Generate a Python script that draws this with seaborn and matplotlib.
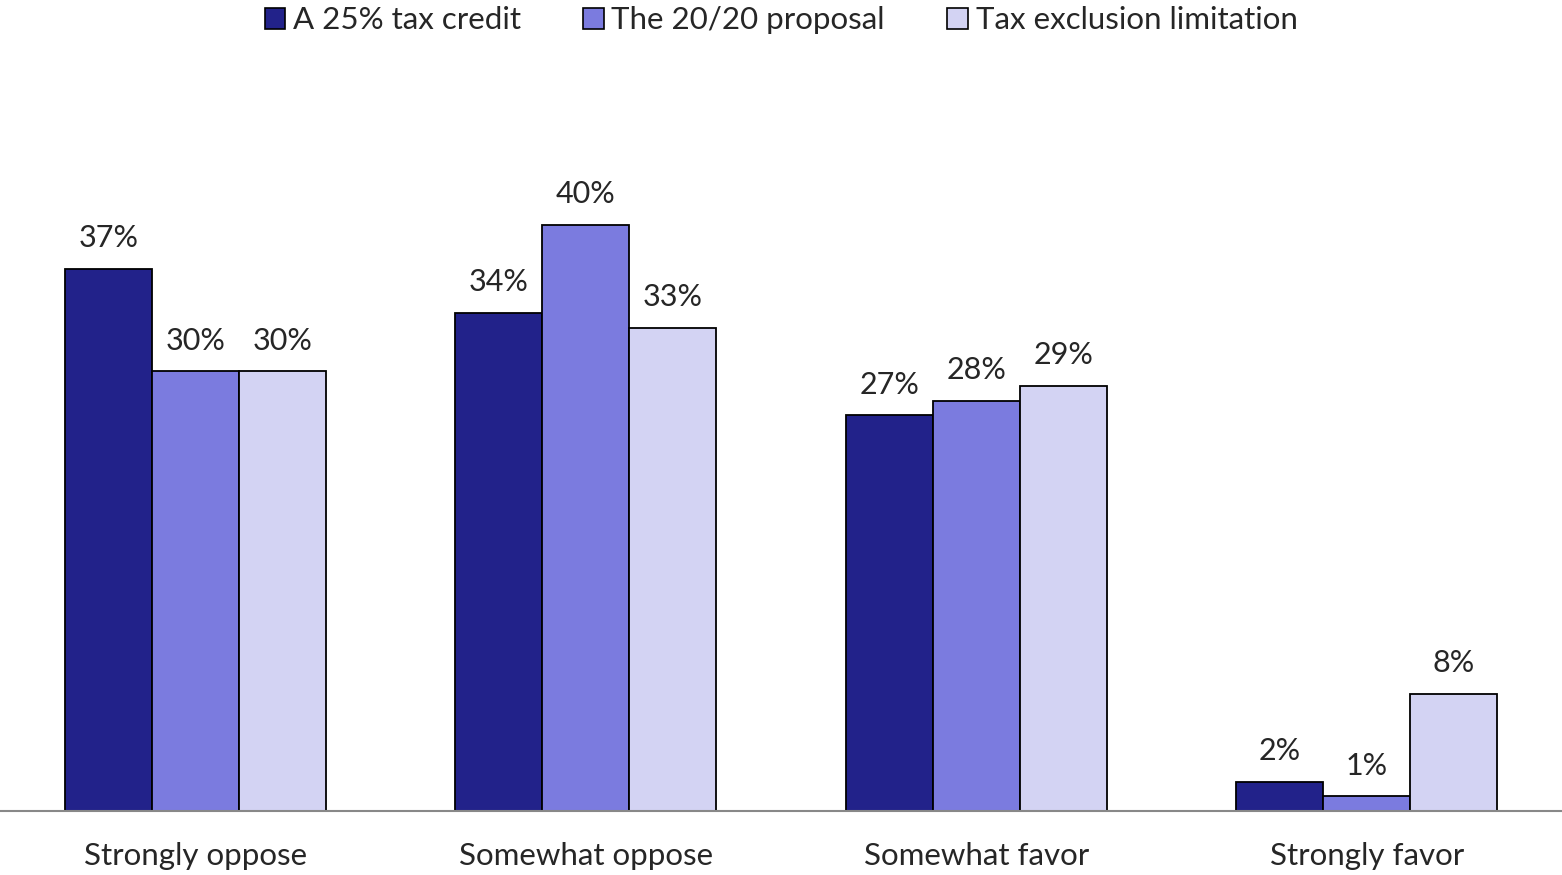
import matplotlib
matplotlib.use("Agg")
import matplotlib.pyplot as plt
from matplotlib.patches import Patch
import seaborn as sns
import pandas as pd

categories = ["Strongly oppose", "Somewhat oppose", "Somewhat favor", "Strongly favor"]
series = ["A 25% tax credit", "The 20/20 proposal", "Tax exclusion limitation"]
tax_credit = [37, 34, 27, 2]
proposal_2020 = [30, 40, 28, 1]
exclusion_limit = [30, 33, 29, 8]
colors = ["#22228A", "#7B7BDF", "#D3D3F3"]

rows = []
for name, vals in zip(series, [tax_credit, proposal_2020, exclusion_limit]):
    for cat, v in zip(categories, vals):
        rows.append({"category": cat, "series": name, "value": v})
df = pd.DataFrame(rows)

sns.set_style("white")
plt.rcParams["font.family"] = ["Lato", "DejaVu Sans"]

fig = plt.figure(figsize=(15.62, 8.75), dpi=100)
ax = fig.add_axes([0, 64 / 875, 1, 751 / 875])

sns.barplot(data=df, x="category", y="value", hue="series", order=categories,
            hue_order=series, palette=colors, width=0.668, edgecolor="black",
            linewidth=1.3, saturation=1, legend=False, ax=ax)

for container in ax.containers:
    ax.bar_label(container, labels=[f"{int(round(b.get_height()))}%" for b in container],
                 padding=12, fontsize=22)

ax.set_xlim(-0.5, 3.5)
ax.set_ylim(0, 51.26)
ax.set_xlabel("")
ax.set_ylabel("")
ax.set_yticks([])
ax.tick_params(axis="x", length=0, pad=22, labelsize=22.5)
for s in ["top", "left", "right"]:
    ax.spines[s].set_visible(False)
ax.spines["bottom"].set_color("#888888")
ax.spines["bottom"].set_linewidth(1.5)

handles = [Patch(facecolor=c, edgecolor="black", linewidth=1.2) for c in colors]
fig.legend(handles, series, loc="upper center", bbox_to_anchor=(0.5, 1.025), ncol=3,
           frameon=False, fontsize=22.5, handlelength=0.65, handleheight=0.65,
           handletextpad=0.25, columnspacing=2.0)

fig.savefig("out.png", dpi=100)
